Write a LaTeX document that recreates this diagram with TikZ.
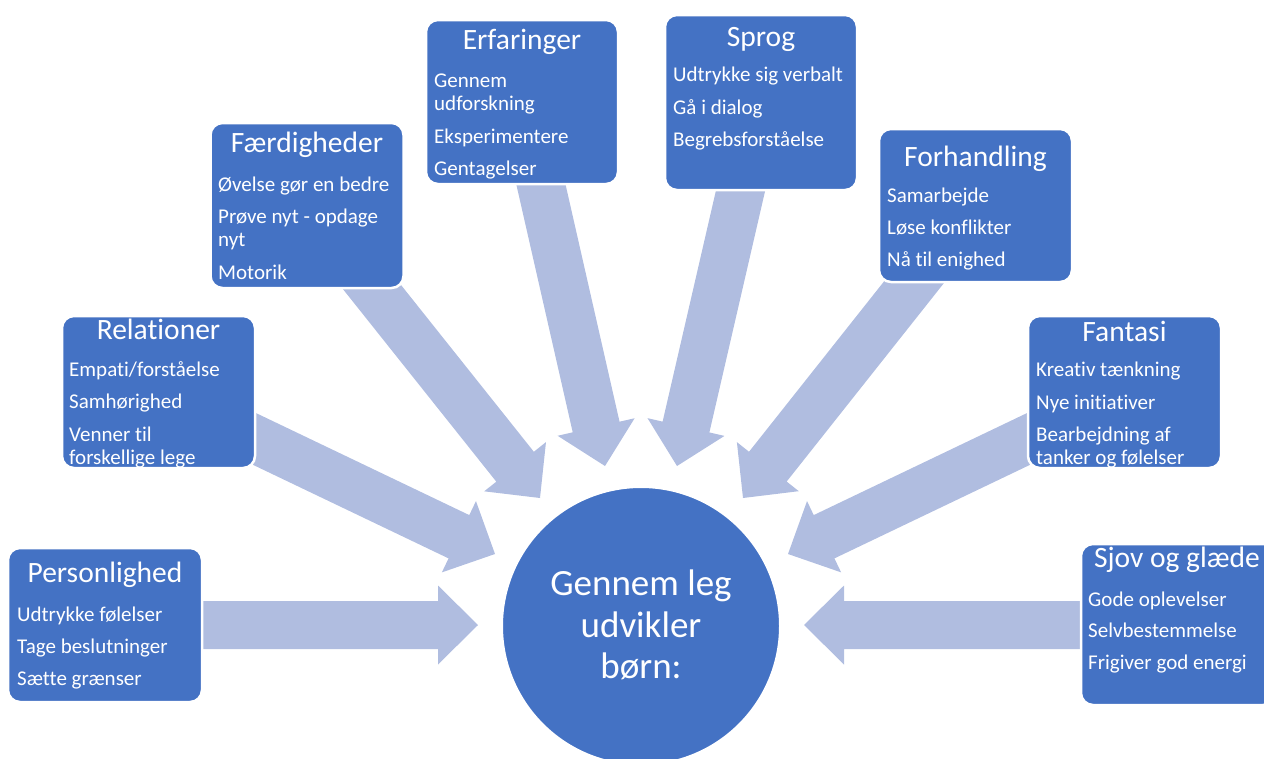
\documentclass[tikz,border=0pt]{standalone}
\usepackage{fontspec}
\setmainfont{Carlito}[Ligatures=NoCommon]
\usetikzlibrary{calc}
\definecolor{boxblue}{HTML}{4472C4}
\definecolor{arrowblue}{HTML}{B0BDE0}
\newcommand{\blkarrow}[2]{%
  \path ($(#2)!40pt!(#1)$) coordinate (hb);
  \fill[arrowblue] ($(#1)!24pt!90:(#2)$) -- ($(hb)!24pt!90:(#2)$) -- ($(hb)!39.5pt!90:(#2)$) -- (#2)
    -- ($(hb)!39.5pt!-90:(#2)$) -- ($(hb)!24pt!-90:(#2)$) -- ($(#1)!24pt!-90:(#2)$) -- cycle;
}
\tikzset{
  box/.style={draw=white, line width=2.5pt, fill=boxblue, rounded corners=12pt, inner sep=0pt},
  ttl/.style={text=white, font=\fontsize{29.5}{32}\selectfont, anchor=base, inner sep=0pt},
  itm/.style={text=white, font=\fontsize{21}{23}\selectfont, anchor=base west, inner sep=0pt},
  ctr/.style={text=white, font=\fontsize{37}{41}\selectfont, anchor=base, inner sep=0pt},
}
\begin{document}
\begin{tikzpicture}[x=1pt, y=-1pt]
\useasboundingbox (0,0) rectangle (1264,758);
\clip (0,0) rectangle (1264,758);
% arrow ends
\coordinate (a1t) at (192,625);  \coordinate (a1h) at (478,625);
\coordinate (a2t) at (1092,625); \coordinate (a2h) at (804,625);
\coordinate (a3t) at (240,432);  \coordinate (a3h) at (495,554);
\coordinate (a8t) at (1043,432); \coordinate (a8h) at (788,554);
\coordinate (a4t) at (356,267);  \coordinate (a4h) at (540,498);
\coordinate (a7t) at (930,262);  \coordinate (a7h) at (743,498);
\coordinate (a5t) at (539,176);  \coordinate (a5h) at (605,466);
\coordinate (a6t) at (743,180);  \coordinate (a6h) at (677,466);
\blkarrow{a1t}{a1h}
\blkarrow{a2t}{a2h}
\blkarrow{a3t}{a3h}
\blkarrow{a8t}{a8h}
\blkarrow{a4t}{a4h}
\blkarrow{a7t}{a7h}
\blkarrow{a5t}{a5h}
\blkarrow{a6t}{a6h}
% boxes
\node[box, minimum width=194pt, minimum height=154pt] (pers) at (105,625) {};
\node[box, minimum width=193pt, minimum height=152pt] (rel) at (158.5,392) {};
\node[box, minimum width=193pt, minimum height=165pt] (faer) at (307,205.5) {};
\node[box, minimum width=192pt, minimum height=164pt] (erf) at (522,102) {};
\node[box, minimum width=192pt, minimum height=175pt] (spr) at (761,102.5) {};
\node[box, minimum width=193pt, minimum height=153pt] (forh) at (975.5,205.5) {};
\node[box, minimum width=193pt, minimum height=152pt] (fant) at (1124.5,392) {};
\node[box, minimum width=194pt, minimum height=161pt] (sjov) at (1178,624.5) {};
% texts
\node[ttl] (persT) at (105,582) {Personlighed};
\node[itm] (pers1) at (17,621) {Udtrykke følelser};
\node[itm] (pers2) at (17,653) {Tage beslutninger};
\node[itm] (pers3) at (17,685) {Sætte grænser};

\node[ttl] (relT) at (158.5,339) {Relationer};
\node[itm] (rel1) at (69,376) {Empati/forståelse};
\node[itm] (rel2) at (69,408) {Samhørighed};
\node[itm] (rel3) at (69,441) {Venner til};
\node[itm] (rel4) at (69,464) {forskellige lege};

\node[ttl] (faerT) at (307,152) {Færdigheder};
\node[itm] (faer1) at (218,191) {Øvelse gør en bedre};
\node[itm] (faer2) at (218,223) {Prøve nyt - opdage};
\node[itm] (faer3) at (218,246) {nyt};
\node[itm] (faer4) at (218,279) {Motorik};

\node[ttl] (erfT) at (522,49) {Erfaringer};
\node[itm] (erf1) at (434,87) {Gennem};
\node[itm] (erf2) at (434,110) {udforskning};
\node[itm] (erf3) at (434,143) {Eksperimentere};
\node[itm] (erf4) at (434,175) {Gentagelser};

\node[ttl] (sprT) at (761,46) {Sprog};
\node[itm] (spr1) at (673,81) {Udtrykke sig verbalt};
\node[itm] (spr2) at (673,114) {Gå i dialog};
\node[itm] (spr3) at (673,146) {Begrebsforståelse};

\node[ttl] (forhT) at (975.5,166) {Forhandling};
\node[itm] (forh1) at (887,202) {Samarbejde};
\node[itm] (forh2) at (887,234) {Løse konflikter};
\node[itm] (forh3) at (887,266) {Nå til enighed};

\node[ttl] (fantT) at (1124.5,341) {Fantasi};
\node[itm] (fant1) at (1036,376) {Kreativ tænkning};
\node[itm] (fant2) at (1036,409) {Nye initiativer};
\node[itm] (fant3) at (1036,441) {Bearbejdning af};
\node[itm] (fant4) at (1036,464) {tanker og følelser};

\node[ttl] (sjovT) at (1177,567) {Sjov og glæde};
\node[itm] (sjov1) at (1088,606) {Gode oplevelser};
\node[itm] (sjov2) at (1088,637) {Selvbestemmelse};
\node[itm] (sjov3) at (1088,669) {Frigiver god energi};
% centre
\node[circle, fill=boxblue, draw=white, line width=2pt, minimum size=278pt, inner sep=0pt] (c) at (641,626) {};
\node[ctr] (c1) at (641,595) {Gennem leg};
\node[ctr] (c2) at (641,637) {udvikler};
\node[ctr] (c3) at (641,678) {børn:};
\end{tikzpicture}
\end{document}
